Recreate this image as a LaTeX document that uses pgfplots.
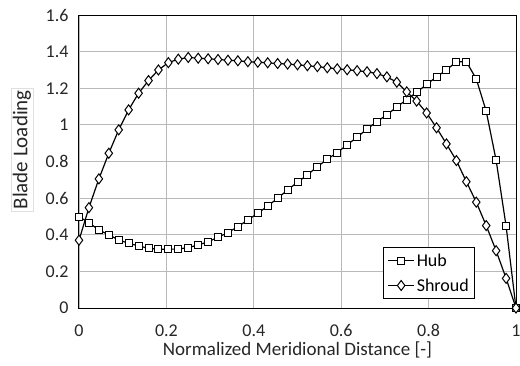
\documentclass[border=0pt]{standalone}
\usepackage{fontspec}
\setmainfont{Carlito}
\usepackage{pgfplots}
\usepackage{pgfplotstable}
\pgfplotsset{compat=1.18}
\pgfplotstableread{
x hub shroud
0.0000 0.499 0.370
0.0227 0.466 0.548
0.0455 0.426 0.705
0.0682 0.399 0.845
0.0909 0.372 0.973
0.1136 0.353 1.082
0.1364 0.339 1.173
0.1591 0.326 1.242
0.1818 0.321 1.300
0.2045 0.321 1.340
0.2273 0.322 1.359
0.2500 0.330 1.368
0.2727 0.344 1.364
0.2955 0.362 1.361
0.3182 0.386 1.357
0.3409 0.412 1.353
0.3636 0.444 1.350
0.3864 0.481 1.345
0.4091 0.517 1.342
0.4318 0.557 1.339
0.4545 0.599 1.335
0.4773 0.645 1.332
0.5000 0.687 1.328
0.5227 0.727 1.323
0.5455 0.772 1.318
0.5682 0.812 1.312
0.5909 0.849 1.306
0.6136 0.891 1.301
0.6364 0.933 1.296
0.6591 0.977 1.290
0.6818 1.018 1.280
0.7045 1.055 1.262
0.7273 1.098 1.233
0.7500 1.138 1.180
0.7727 1.178 1.130
0.7955 1.221 1.065
0.8182 1.262 0.984
0.8409 1.300 0.896
0.8636 1.345 0.805
0.8864 1.345 0.690
0.9091 1.251 0.578
0.9318 1.075 0.450
0.9545 0.807 0.313
0.9773 0.448 0.162
1.0000 0.000 0.000
}\bladedata
\begin{document}
\begin{tikzpicture}
\begin{axis}[
  at={(0pt,0pt)}, anchor=south west,
  scale only axis, width=437pt, height=293pt,
  xmin=0, xmax=1, ymin=0, ymax=1.6,
  xtick={0,0.2,0.4,0.6,0.8,1},
  ytick={0,0.2,0.4,0.6,0.8,1,1.2,1.4,1.6},
  major tick length=0pt,
  grid=major,
  grid style={gray!55, line width=0.8pt},
  axis line style={black, line width=1pt},
  /pgf/number format/assume math mode=true,
  tick label style={font=\fontsize{18}{21}\selectfont, text=black!85},
  yticklabel style={xshift=-7pt},
  xticklabel style={yshift=-13pt},
  xlabel={Normalized Meridional Distance [-]},
  xlabel style={at={(axis description cs:0.5,0)}, anchor=base, yshift=-47pt, font=\fontsize{19}{22}\selectfont, text=black!85},
  ylabel={Blade Loading},
  ylabel style={at={(axis description cs:-0.1304,0.54)}, anchor=center, font=\fontsize{21}{24}\selectfont, text=black!85, draw=gray!25, line width=0.6pt, inner sep=2pt},
  legend style={at={(axis description cs:0.696,0.031)}, anchor=south west, draw=black, line width=0.8pt, font=\fontsize{18}{21}\selectfont, row sep=7pt, inner sep=4pt, cells={anchor=west}},
  legend image code/.code={\draw[mark repeat=2,mark phase=2,#1] plot coordinates {(0pt,0pt)(13pt,0pt)(26pt,0pt)};},
]
\addplot[black, line width=1.2pt, mark=square*, mark size=3.5pt, mark options={fill=white, line width=1pt}] table[x=x, y=hub] {\bladedata};
\addlegendentry{Hub}
\addplot[black, line width=1.2pt, mark=diamond*, mark size=5pt, mark options={fill=white, line width=1pt}] table[x=x, y=shroud] {\bladedata};
\addlegendentry{Shroud}
\end{axis}
\pgfresetboundingbox
\useasboundingbox (-79pt,-57pt) rectangle (441pt,308pt);
\end{tikzpicture}
\end{document}
